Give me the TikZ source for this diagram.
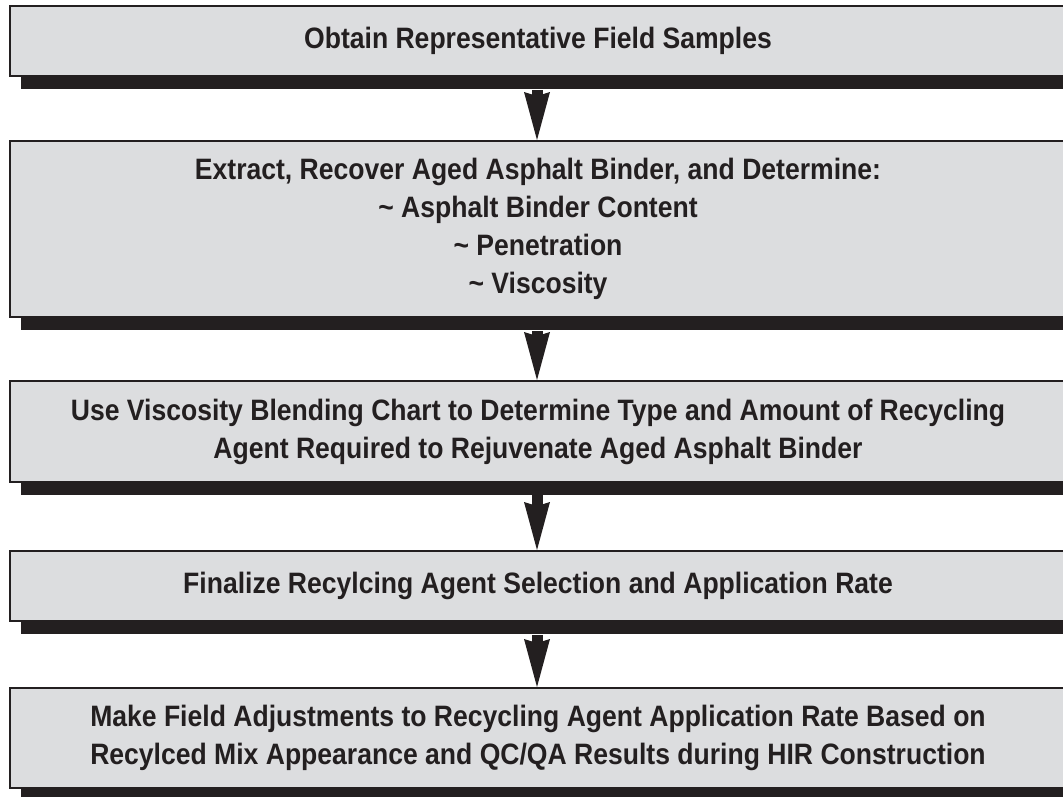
\documentclass[tikz,border=0pt]{standalone}
\usepackage{fontspec}
\setmainfont{Liberation Sans}[FakeStretch=0.9]
\usetikzlibrary{arrows.meta,shadows}

\definecolor{boxgray}{HTML}{DCDDDF}
\definecolor{inkdark}{HTML}{231F20}

\tikzset{
    stepbox/.style={draw=inkdark, line width=2pt, fill=boxgray,
        minimum width=1056pt, inner sep=0pt, align=center, text=inkdark,
        font=\fontsize{29.5}{38}\selectfont\bfseries,
        drop shadow={shadow xshift=11pt, shadow yshift=-13pt,
            fill=inkdark, opacity=1}},
    flowarrow/.style={draw=inkdark, line width=11pt,
        -{Stealth[length=48pt, width=26pt, inset=4pt, line width=0pt]}}
}

\begin{document}
\begin{tikzpicture}[x=1pt, y=-1pt]

    % --- Frame ---
    \useasboundingbox (0,0) rectangle (1063,796);

    % --- Steps ---
    % Step 1: field samples
    \node[stepbox, minimum height=70pt] (sample) at (538,41)
        {Obtain Representative Field Samples};

    % Step 2: binder tests
    \node[stepbox, minimum height=176pt] (extract) at (538,229)
        {Extract, Recover Aged Asphalt Binder, and Determine:\\
         \textasciitilde{} Asphalt Binder Content\\
         \textasciitilde{} Penetration\\
         \textasciitilde{} Viscosity};

    % Step 3: blending chart
    \node[stepbox, minimum height=101pt] (chart) at (538,431.5)
        {Use Viscosity Blending Chart to Determine Type and Amount of Recycling\\
         Agent Required to Rejuvenate Aged Asphalt Binder};

    % Step 4: selection
    \node[stepbox, minimum height=70pt] (select) at (538,586)
        {Finalize Recylcing Agent Selection and Application Rate};

    % Step 5: field adjustments
    \node[stepbox, minimum height=100pt] (adjust) at (538,738)
        {Make Field Adjustments to Recycling Agent Application Rate Based on\\
         Recylced Mix Appearance and QC/QA Results during HIR Construction};

    % --- Arrows ---
    % from the bottom of each shadow down to the next box
    \draw[flowarrow] ([xshift=-1pt, yshift=-13pt]sample.south) -- ([xshift=-1pt]extract.north);
    \draw[flowarrow] ([xshift=-1pt, yshift=-13pt]extract.south) -- ([xshift=-1pt]chart.north);
    \draw[flowarrow] ([xshift=-1pt, yshift=-9pt]chart.south) -- ([xshift=-1pt]select.north);
    \draw[flowarrow] ([xshift=-1pt, yshift=-13pt]select.south) -- ([xshift=-1pt]adjust.north);

\end{tikzpicture}
\end{document}
